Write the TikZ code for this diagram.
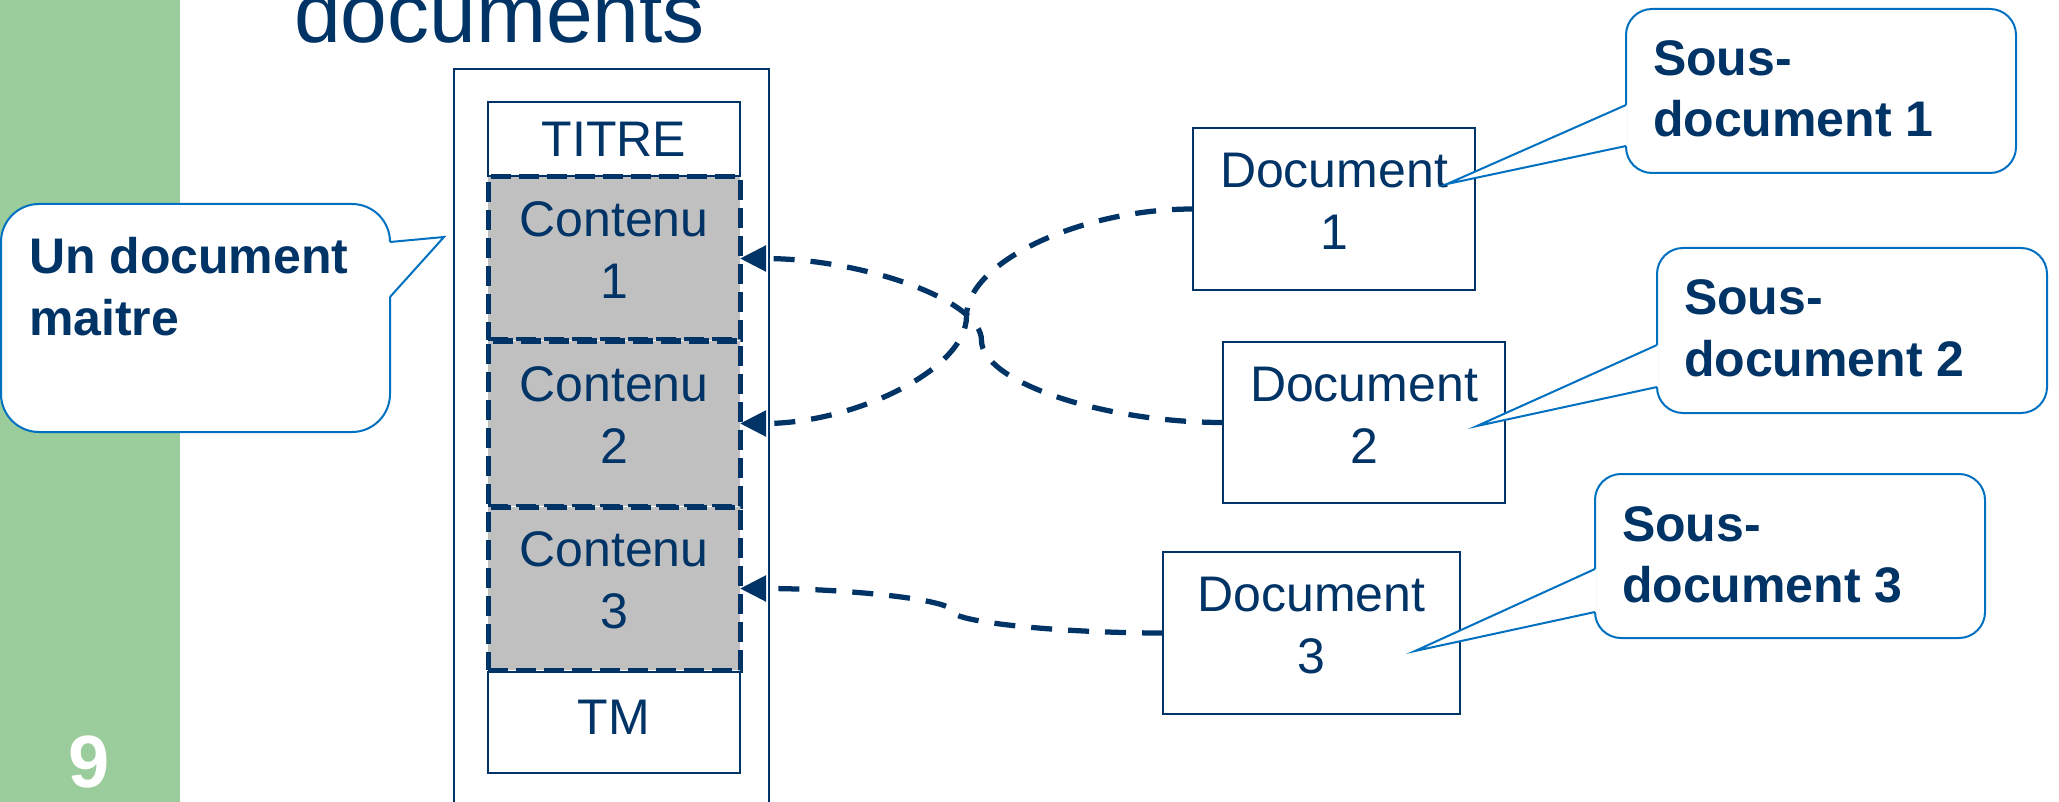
\documentclass[tikz,border=0pt]{standalone}
\usepackage{fontspec}
\setmainfont{Liberation Sans}
\usetikzlibrary{arrows.meta,calc}
\definecolor{navy}{RGB}{0,51,102}
\definecolor{callblue}{RGB}{0,112,192}
\definecolor{sidegreen}{RGB}{155,204,155}
\definecolor{partgray}{RGB}{192,192,192}
% invisible rule that adds depth below the last line, lifting the text in its box
\newcommand\sinkby[1]{\rule[-#1]{0pt}{#1}}
\begin{document}
\begin{tikzpicture}[x=1pt,y=-1pt,
  txt/.style={text=navy,inner sep=0pt,outer sep=0pt},
  body/.style={txt,font=\fontsize{50}{62}\selectfont},
  bold/.style={txt,anchor=base west,font=\fontsize{50}{61}\selectfont\bfseries},
  plainbox/.style={draw=navy,line width=2pt,fill=white,inner sep=0pt,outer sep=0pt,align=center,body},
  partbox/.style={plainbox,fill=partgray,line width=5pt,dash pattern=on 20pt off 8pt},
  bubble/.style={draw=callblue,line width=2pt,fill=white},
  wedge/.style={draw=callblue,line width=2pt,line join=miter},
  curvedconn/.style={to path={let \p1=(\tikztostart),\p2=(\tikztotarget) in
     .. controls ({0.75*\x1+0.25*\x2},\y1) and ({0.5*\x1+0.5*\x2},{0.75*\y1+0.25*\y2})
     .. ({0.5*\x1+0.5*\x2},{0.5*\y1+0.5*\y2})
     .. controls ({0.5*\x1+0.5*\x2},{0.25*\y1+0.75*\y2}) and ({0.25*\x1+0.75*\x2},\y2)
     .. (\tikztotarget)}},
  link/.style={draw=navy,line width=5.25pt,dash pattern=on 21pt off 16pt,
     -{Triangle[length=26pt,width=25pt]},curvedconn}
]
\useasboundingbox (0,0) rectangle (2059,802);

% side band and slide number
\fill[sidegreen] (0,0) rectangle (180,802);
\node[txt,text=white,anchor=base,font=\fontsize{74}{80}\selectfont\bfseries] (pagenum) at (89,787) {9};

% heading (last word of the slide title)
\node[txt,anchor=base west,font=\fontsize{84}{90}\selectfont] (title) at (294,43) {documents};

% master document frame
\node[draw=navy,line width=2pt,minimum width=315pt,minimum height=830pt,inner sep=0pt,outer sep=0pt] (master) at (611.5,484) {};

% parts of the master document
\node[plainbox,minimum width=252pt,minimum height=74pt] (titre) at (614,139) {TITRE};
\node[partbox,minimum width=252pt,minimum height=163pt] (c1) at (614,258.5) {Contenu\\1\sinkby{16pt}};
\node[partbox,minimum width=252pt,minimum height=165pt] (c2) at (614,423.5) {Contenu\\2\sinkby{16pt}};
\node[partbox,minimum width=252pt,minimum height=163pt] (c3) at (614,588.5) {Contenu\\3\sinkby{16pt}};
\node[plainbox,minimum width=252pt,minimum height=101pt] (tm) at (614,722.5) {TM\sinkby{11pt}};

% sub-documents
\node[plainbox,minimum width=282pt,minimum height=162pt] (d1) at (1334,209) {Document\\1\sinkby{15pt}};
\node[plainbox,minimum width=282pt,minimum height=161pt] (d2) at (1364,422.5) {Document\\2\sinkby{15pt}};
\node[plainbox,minimum width=297pt,minimum height=162pt] (d3) at (1311.5,633) {Document\\3\sinkby{15pt}};

% links from each sub-document into the master
\draw[link] (d2.west) to (c1.east);
\draw[link] (d1.west) to (c2.east);
\draw[link] (d3.west) to (c3.east);

% callout: master document (pointer on the right side)
\draw[bubble,rounded corners=38pt] (1,204) rectangle (390,432);
\fill[white] (444,237) -- (390,242) -- (388.5,242) -- (388.5,297) -- (390,297) -- cycle;
\draw[wedge] (390,242) -- (444,237) -- (390,297);
\node[bold] (m1) at (29,274) {Un document};
\node[bold] (m2) at (29,335) {maitre};

% callouts: sub-documents (pointer on the left side)
\draw[bubble,rounded corners=26pt] (1626,9) rectangle (2016,173);
\fill[white] (1447,184) -- (1626,105) -- (1627.5,105) -- (1627.5,146) -- (1626,146) -- cycle;
\draw[wedge] (1626,105) -- (1447,184) -- (1626,146);
\node[bold] (s1a) at (1653,76) {Sous-};
\node[bold] (s1b) at (1653,137) {document 1};

\draw[bubble,rounded corners=26pt] (1657,248) rectangle (2047,413);
\fill[white] (1477,426) -- (1657,345) -- (1658.5,345) -- (1658.5,387) -- (1657,387) -- cycle;
\draw[wedge] (1657,345) -- (1477,426) -- (1657,387);
\node[bold] (s2a) at (1684,315) {Sous-};
\node[bold] (s2b) at (1684,376) {document 2};

\draw[bubble,rounded corners=26pt] (1595,474) rectangle (1985,638);
\fill[white] (1415,651) -- (1595,569) -- (1596.5,569) -- (1596.5,612) -- (1595,612) -- cycle;
\draw[wedge] (1595,569) -- (1415,651) -- (1595,612);
\node[bold] (s3a) at (1622,541) {Sous-};
\node[bold] (s3b) at (1622,602) {document 3};
\end{tikzpicture}
\end{document}
